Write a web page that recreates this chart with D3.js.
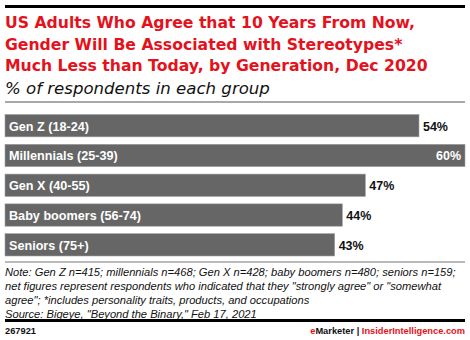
<!DOCTYPE html>
<html>
<head>
<meta charset="utf-8">
<script src="https://cdn.jsdelivr.net/npm/d3@7"></script>
<style>
  html, body { margin: 0; padding: 0; background: #fff; }
  svg { display: block; }
</style>
</head>
<body>
<script>
const categories = ["Gen Z (18-24)", "Millennials (25-39)", "Gen X (40-55)", "Baby boomers (56-74)", "Seniors (75+)"];
const values = [54, 60, 47, 44, 43];
const valueLabels = ["54%", "60%", "47%", "44%", "43%"];
const titleLines = [
  "US Adults Who Agree that 10 Years From Now,",
  "Gender Will Be Associated with Stereotypes*",
  "Much Less than Today, by Generation, Dec 2020"
];
const subtitle = "% of respondents in each group";
const noteLines = [
  "Note: Gen Z n=415; millennials n=468; Gen X n=428; baby boomers n=480; seniors n=159;",
  "net figures represent respondents who indicated that they \"strongly agree\" or \"somewhat",
  "agree\"; *includes personality traits, products, and occupations",
  "Source: Bigeye, \"Beyond the Binary,\" Feb 17, 2021"
];
const chartId = "267921";

const W = 470, H = 340;
const red = "#e3121c";
const fontWide = "'DejaVu Sans', sans-serif";
const font = "'Liberation Sans', Arial, sans-serif";

const svg = d3.select("body").append("svg").attr("width", W).attr("height", H);

// fit a text selection's font size so that the element 'refNode' reaches target width
function fit(sel, refNode, target) {
  const fs = parseFloat(d3.select(refNode).attr("font-size"));
  const w = refNode.getComputedTextLength();
  sel.attr("font-size", (fs * target / w).toFixed(2));
}

// top black rule
svg.append("rect").attr("x", 5).attr("y", 5).attr("width", 460).attr("height", 3).attr("fill", "#000");

// title
const title = svg.append("g").selectAll("text").data(titleLines).join("text")
  .attr("x", 5).attr("y", (d, i) => 28 + i * 21.5)
  .attr("font-family", fontWide).attr("font-weight", "bold").attr("font-size", 15)
  .attr("fill", red).text(d => d);
fit(title, title.nodes()[0], 410);

const sub = svg.append("text").attr("x", 5).attr("y", 93.5)
  .attr("font-family", fontWide).attr("font-style", "italic").attr("font-size", 14)
  .attr("fill", "#111").text(subtitle);
fit(sub, sub.node(), 265);

// gray rule
svg.append("rect").attr("x", 5).attr("y", 101.5).attr("width", 460).attr("height", 1).attr("fill", "#555");

// scales
const x = d3.scaleLinear().domain([0, 60]).range([5, 465]);
const y = d3.scaleBand().domain(categories).range([114.5, 256]).paddingInner(0.25).paddingOuter(0.0);

const g = svg.append("g");
g.selectAll("rect.bar").data(categories).join("rect").attr("class", "bar")
  .attr("x", x(0)).attr("y", d => y(d))
  .attr("width", (d, i) => x(values[i]) - x(0)).attr("height", y.bandwidth())
  .attr("fill", "#666666").attr("stroke", "#a0a0a0").attr("stroke-width", 0.6);

const cats = g.selectAll("text.cat").data(categories).join("text").attr("class", "cat")
  .attr("x", x(0) + 4).attr("y", d => y(d) + y.bandwidth() / 2 + 5)
  .attr("font-family", font).attr("font-weight", "bold").attr("font-size", 13)
  .attr("fill", "#fff").text(d => d);
fit(cats, cats.nodes()[0], 80);

const maxV = d3.max(values);
const vals = g.selectAll("text.val").data(categories).join("text").attr("class", "val")
  .attr("x", (d, i) => values[i] === maxV ? x(values[i]) - 4 : x(values[i]) + 4)
  .attr("text-anchor", (d, i) => values[i] === maxV ? "end" : "start")
  .attr("y", d => y(d) + y.bandwidth() / 2 + 5)
  .attr("font-family", font).attr("font-weight", "bold").attr("font-size", 13)
  .attr("fill", (d, i) => values[i] === maxV ? "#fff" : "#111")
  .text((d, i) => valueLabels[i]);
fit(vals, vals.nodes()[0], 25);

// bottom gray rule
svg.append("rect").attr("x", 5).attr("y", 261.5).attr("width", 460).attr("height", 1).attr("fill", "#777");

const notes = svg.append("g").selectAll("text").data(noteLines).join("text")
  .attr("x", 5).attr("y", (d, i) => 276 + i * 14)
  .attr("font-family", font).attr("font-style", "italic").attr("font-size", 11)
  .attr("fill", "#111").text(d => d);
fit(notes, notes.nodes()[0], 451);

// bottom black rule
svg.append("rect").attr("x", 5).attr("y", 319).attr("width", 460).attr("height", 3).attr("fill", "#000");

const idText = svg.append("text").attr("x", 5).attr("y", 334)
  .attr("font-family", font).attr("font-weight", "bold").attr("font-size", 10)
  .attr("fill", "#111").text(chartId);
fit(idText, idText.node(), 31);

const foot = svg.append("text").attr("x", 465).attr("y", 334).attr("text-anchor", "end")
  .attr("font-family", font).attr("font-weight", "bold").attr("font-size", 10);
foot.append("tspan").attr("fill", red).text("e");
foot.append("tspan").attr("fill", "#111").text("Marketer  |  ");
foot.append("tspan").attr("fill", red).text("InsiderIntelligence.com");
fit(foot, foot.node(), 155);
</script>
</body>
</html>
